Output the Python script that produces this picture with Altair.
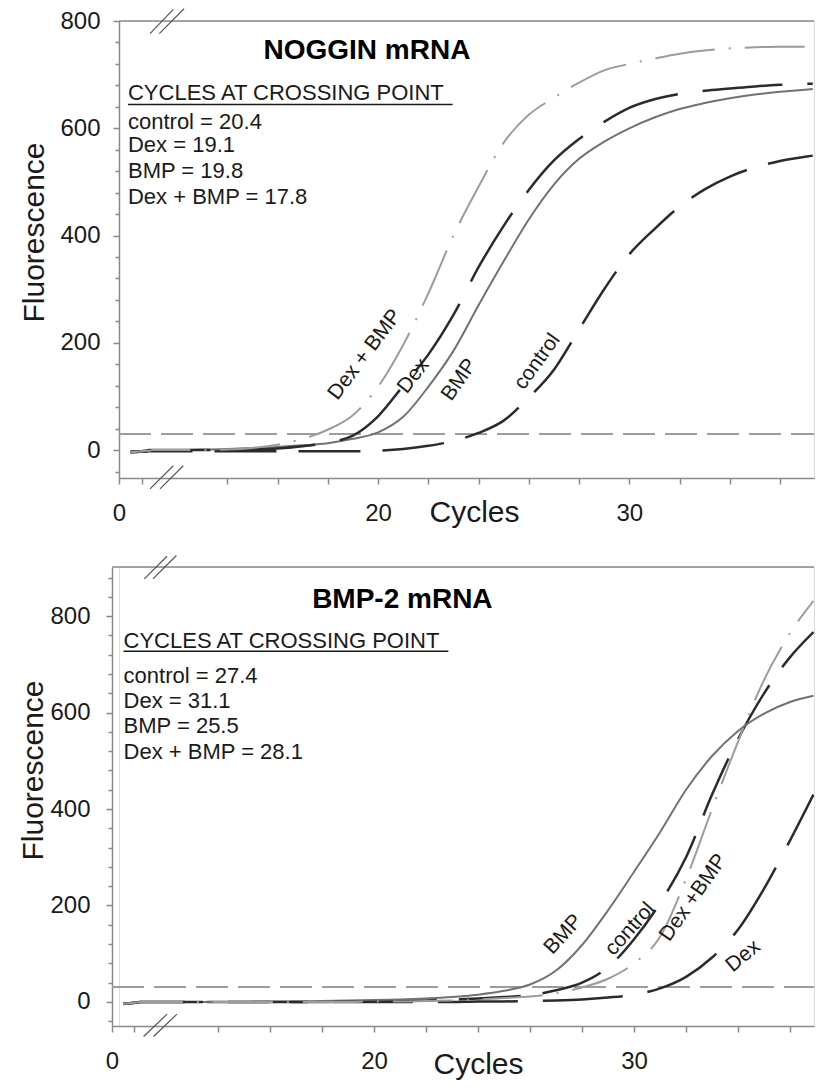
import altair as alt
import pandas as pd

FONT = "Liberation Sans"
GRAY = "#8a8a8a"
DARK = "#1a1a1a"

CYCLES_TOP = [1, 2, 3, 4, 5, 6, 7, 8, 9, 10, 11, 12, 13, 14, 15, 16, 17, 18, 19, 20,
              21, 22, 23, 24, 25, 26, 27, 28, 29, 30, 31, 32, 33, 34, 35, 36, 37, 37.3]
CYCLES_BOT = [1, 2, 3, 4, 5, 6, 7, 8, 9, 10, 11, 12, 13, 14, 15, 16, 17, 18, 19, 20,
              21, 22, 23, 24, 25, 26, 27, 28, 29, 30, 31, 32, 33, 34, 35, 36, 36.9]

# ---- NOGGIN mRNA (top panel) ----
NOG_CONTROL = [-3, -3, -3, -2, -2, -2, -2, -2, -2, -2, -2, -2, -2, -2, -2, -2, -2, -2, -2, -1,
               2, 8, 17, 32, 55, 98, 150, 225, 300, 365, 412, 454, 486, 510, 527, 539, 547, 549]
NOG_DEX = [-3, -2, -1, 0, 0, 0, 0, 0, 0, 0, 0, 0, 0, 0, 1, 3, 7, 14, 27, 63,
           120, 178, 252, 341, 418, 485, 540, 580, 612, 638, 654, 664, 670, 674, 678, 681, 683, 683]
NOG_BMP = [-6, -3, -2, -1, 0, 0, 0, 0, 0, 0, 0, 0, 1, 2, 4, 6, 9, 13, 21, 33,
           62, 118, 185, 270, 352, 430, 495, 543, 575, 600, 620, 636, 647, 656, 663, 668, 672, 673]
NOG_DEXBMP = [-4, -2, -1, -1, 0, 0, 0, 0, 0, 0, 0, 0, 0, 1, 4, 10, 21, 38, 65, 118,
              196, 292, 400, 491, 573, 625, 657, 685, 708, 720, 730, 739, 745, 749, 751, 752, 752, 752]

# ---- BMP-2 mRNA (bottom panel) ----
B2_CONTROL = [-4, -2, -1, 0, 0, 0, 0, 0, 0, 0, 0, 0, 0, 0, 0, 0, 0, 0, 1, 1,
              2, 3, 5, 7, 10, 14, 24, 40, 72, 130, 205, 300, 430, 545, 640, 715, 767]
B2_DEX = [-4, -2, -1, 0, 0, 0, 0, 0, 0, 0, 0, 0, 0, 0, 0, 0, 0, 0, 0, 0,
          0, 0, 0, 1, 1, 2, 3, 5, 9, 15, 28, 52, 92, 150, 235, 335, 430]
B2_BMP = [-5, -3, -2, -1, 0, 0, 0, 0, 0, 0, 0, 0, 0, 0, 0, 1, 1, 2, 3, 4,
          5, 7, 10, 15, 23, 36, 65, 118, 190, 270, 352, 440, 510, 562, 598, 622, 635]
B2_DEXBMP = [-4, -2, -1, 0, 0, 0, 0, 0, 0, 0, 0, 0, 0, 0, 0, 0, 0, 0, 0, 1,
             1, 2, 3, 5, 8, 11, 18, 30, 48, 80, 135, 255, 400, 540, 668, 765, 832]

# crossing-point text
NOG_CP_LINES = ["control = 20.4", "Dex = 19.1", "BMP = 19.8", "Dex + BMP = 17.8"]
B2_CP_LINES = ["control = 27.4", "Dex = 31.1", "BMP = 25.5", "Dex + BMP = 28.1"]

# curve labels: text, cycle, fluorescence, angle
NOG_LABELS = [("Dex + BMP", 19.48, 178, 307), ("Dex", 21.41, 138, 308),
              ("BMP", 23.24, 131, 305), ("control", 26.34, 165, 306)]
B2_LABELS = [("BMP", 27.28, 140, 312), ("control", 29.85, 151, 312),
             ("Dex +BMP", 32.28, 216, 305), ("Dex", 34.2, 95, 320)]

STYLE = {
    "control": ("#2b2b2b", [62, 22], 2.5),
    "Dex": ("#2b2b2b", [80, 25], 2.5),
    "BMP": ("#727272", None, 2.0),
    "Dex + BMP": ("#9c9c9c", [60, 14, 2, 14], 2.0),
}


def panel(p):
    xs = alt.Scale(domain=p["x_dom"], range=p["x_rng"], nice=False, zero=False)
    ys = alt.Scale(domain=p["y_dom"], nice=False, zero=False)
    xaxis = alt.Axis(
        values=p["x_ticks"],
        labelExpr="datum.value == 0 || datum.value == 20 || datum.value == 30 ? datum.label : ''",
        title="Cycles", titleX=p["xt_x"], titleY=p["xt_y"], titleBaseline="alphabetic",
        titleAlign="center", titleFontSize=30, titleFontWeight="normal", titleColor=DARK,
        labelFontSize=24, labelColor=DARK, labelPadding=17, labelFlush=False, labelOverlap=False,
        tickSize=6, tickColor=GRAY, tickWidth=1.5, domainColor=GRAY, domainWidth=1.5, grid=False,
    )
    yaxis = alt.Axis(
        values=p["y_ticks"], offset=p["y_off"],
        labelExpr="datum.value % 200 == 0 ? datum.label : ''",
        title="Fluorescence", titleAngle=270, titleX=p["yt_x"], titleY=p["yt_y"],
        titleBaseline="alphabetic", titleAlign="center", titleFontSize=30,
        titleFontWeight="normal", titleColor=DARK,
        labelFontSize=24, labelColor=DARK, labelPadding=p["ylab_pad"], labelFlush=False,
        labelOverlap=False,
        tickSize={"condition": {"test": "datum.value % 200 == 0", "value": 6}, "value": 4},
        tickColor=GRAY, tickWidth=1.5, domainColor=GRAY, domainWidth=1.5, grid=False,
    )

    def X(f):
        return alt.X(f, type="quantitative", scale=xs, axis=xaxis)

    def Y(f):
        return alt.Y(f, type="quantitative", scale=ys, axis=yaxis)

    x0, x1 = p["x_dom"][0], p["x_dom"][-1]
    layers = []
    # threshold line
    layers.append(
        alt.Chart(pd.DataFrame({"cycle": [x0], "cycle2": [x1], "value": [p["threshold"]]}))
        .mark_rule(color="#9c9c9c", strokeDash=[32, 10], strokeWidth=2)
        .encode(x=X("cycle"), x2="cycle2", y=Y("value"))
    )
    # top border
    layers.append(
        alt.Chart(pd.DataFrame({"cycle": [x0], "cycle2": [x1], "value": [p["y_dom"][1]]}))
        .mark_rule(color=GRAY, strokeWidth=1.5)
        .encode(x=X("cycle"), x2="cycle2", y=Y("value"))
    )
    # curves
    for name, vals in p["series"]:
        color, dash, sw = STYLE[name]
        kw = dict(color=color, strokeWidth=sw, clip=True, interpolate="monotone")
        if dash:
            kw["strokeDash"] = dash
        df = pd.DataFrame({"cycle": p["cycles"], "value": vals, "series": name})
        layers.append(alt.Chart(df).mark_line(**kw).encode(x=X("cycle"), y=Y("value")))
    # axis break marks
    layers.append(
        alt.Chart(pd.DataFrame(p["breaks"], columns=["cycle", "value", "cycle2", "value2"]))
        .mark_rule(color="#555555", strokeWidth=1.2)
        .encode(x=X("cycle"), y=Y("value"), x2="cycle2", y2="value2")
    )
    # title
    layers.append(
        alt.Chart(pd.DataFrame({"cycle": [p["title_pos"][0]], "value": [p["title_pos"][1]],
                                "text": [p["title"]]}))
        .mark_text(fontSize=28, fontWeight="bold", align="center", baseline="alphabetic",
                   color="#000000")
        .encode(x=X("cycle"), y=Y("value"), text="text:N")
    )
    # crossing point block
    hx, hy = p["head_pos"]
    layers.append(
        alt.Chart(pd.DataFrame({"cycle": [hx], "value": [hy],
                                "text": ["CYCLES AT CROSSING POINT"]}))
        .mark_text(fontSize=22, align="left", baseline="alphabetic", color=DARK)
        .encode(x=X("cycle"), y=Y("value"), text="text:N")
    )
    layers.append(
        alt.Chart(pd.DataFrame({"cycle": [hx], "cycle2": [p["uline"][0]],
                                "value": [p["uline"][1]]}))
        .mark_rule(color=DARK, strokeWidth=1.5)
        .encode(x=X("cycle"), x2="cycle2", y=Y("value"))
    )
    layers.append(
        alt.Chart(pd.DataFrame({"cycle": [hx] * len(p["cp_lines"]), "value": p["cp_y"],
                                "text": p["cp_lines"]}))
        .mark_text(fontSize=22, align="left", baseline="alphabetic", color=DARK)
        .encode(x=X("cycle"), y=Y("value"), text="text:N")
    )
    # curve labels
    lab = pd.DataFrame(p["labels"], columns=["text", "cycle", "value", "angle"])
    layers.append(
        alt.Chart(lab)
        .mark_text(fontSize=21, align="center", baseline="middle", color=DARK)
        .encode(x=X("cycle"), y=Y("value"), text="text:N",
                angle=alt.Angle("angle:Q", scale=None))
    )
    return alt.layer(*layers).properties(width=p["width"], height=p["height"])


top = panel(dict(
    cycles=CYCLES_TOP,
    x_dom=[0, 2, 12, 37.35], x_rng=[0, 23, 58, 695],
    y_dom=[-52, 800], y_off=0,
    x_ticks=[0, 2, 14, 16, 18, 20, 22, 24, 26, 28, 30, 32, 34, 36],
    y_ticks=[-40, 0, 40, 80, 120, 160, 200, 240, 280, 320, 360, 400, 440, 480, 520,
             560, 600, 640, 680, 720, 760, 800],
    xt_x=355, xt_y=43, yt_x=-76, yt_y=211, ylab_pad=13,
    threshold=30,
    series=[("control", NOG_CONTROL), ("BMP", NOG_BMP), ("Dex", NOG_DEX),
            ("Dex + BMP", NOG_DEXBMP)],
    breaks=[(4.29, 776.5, 10.94, 821.7), (6.94, 776.5, 12.28, 822.8),
            (4.29, -72.2, 10.94, -29.1), (7.14, -72.2, 12.25, -29.1)],
    title="NOGGIN mRNA", title_pos=(19.56, 730),
    head_pos=(0.78, 652), uline=(22.97, 644.5),
    cp_lines=NOG_CP_LINES, cp_y=[599.5, 555, 506.5, 458],
    labels=NOG_LABELS,
    width=695, height=457,
))

# bottom panel: its axis sits 7 px left of the top panel's axis, as in the figure
bottom = panel(dict(
    cycles=CYCLES_BOT,
    x_dom=[0, 2, 12, 36.92], x_rng=[-7, 15, 47, 695],
    y_dom=[-50, 902], y_off=7,
    x_ticks=[0, 2, 14, 16, 18, 20, 22, 24, 26, 28, 30, 32, 34, 36],
    y_ticks=[-40, 0, 40, 80, 120, 160, 200, 240, 280, 320, 360, 400, 440, 480, 520,
             560, 600, 640, 680, 720, 760, 800, 840, 880],
    xt_x=359, xt_y=47, yt_x=-70, yt_y=203, ylab_pad=16,
    threshold=31,
    series=[("control", B2_CONTROL), ("BMP", B2_BMP), ("Dex", B2_DEX),
            ("Dex + BMP", B2_DEXBMP)],
    breaks=[(5.22, 877.5, 12.04, 924.4), (7.94, 877.5, 12.4, 925.8),
            (5.0, -71.7, 12.04, -25.5), (8.1, -71.7, 12.42, -25.5)],
    title="BMP-2 mRNA", title_pos=(21.09, 818),
    head_pos=(1.05, 734.5), uline=(22.86, 727.5),
    cp_lines=B2_CP_LINES, cp_y=[662, 610, 557, 504.5],
    labels=B2_LABELS,
    width=695, height=459,
))

chart = (
    alt.vconcat(top, bottom, spacing=26)
    .properties(padding={"left": 9, "top": -1, "right": 0, "bottom": 0})
    .configure_view(stroke=None)
    .configure(font=FONT)
)

chart.save("out.html", embed_options={"renderer": "svg", "actions": False})
